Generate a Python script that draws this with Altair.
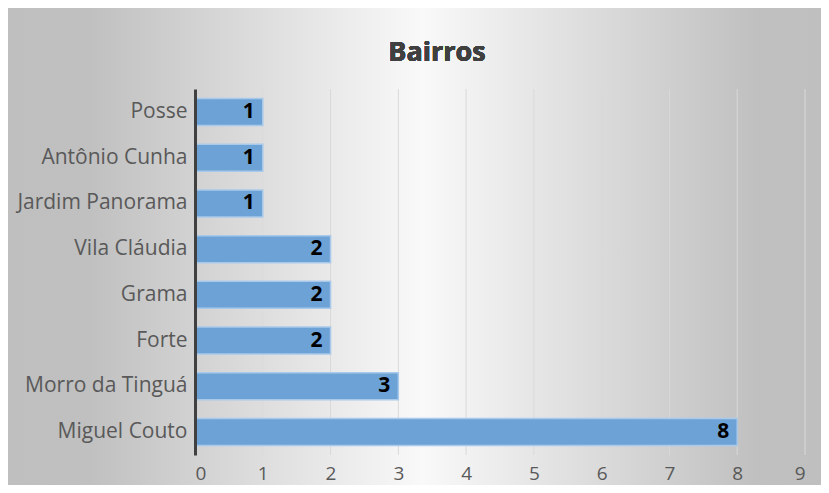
import altair as alt
import pandas as pd

# Data
bairros = ["Posse", "Antônio Cunha", "Jardim Panorama", "Vila Cláudia",
           "Grama", "Forte", "Morro da Tinguá", "Miguel Couto"]
valores = [1, 1, 1, 2, 2, 2, 3, 8]
ticks = [0, 1, 2, 3, 4, 5, 6, 7, 8, 9]
titulo = "Bairros"

df = pd.DataFrame({"bairro": bairros, "valor": valores})
grid_df = pd.DataFrame({"t": ticks})

W, H = 610, 366
FONT = "Open Sans"

xscale = alt.Scale(domain=[0, 9], nice=False, zero=True)
yscale = alt.Scale(paddingInner=0.41, paddingOuter=0.21)

gradient = alt.LinearGradient(
    gradient="linear", x1=0, y1=0, x2=1, y2=0,
    stops=[
        alt.GradientStop(color="#bfbfbf", offset=0),
        alt.GradientStop(color="#c0c0c0", offset=0.10),
        alt.GradientStop(color="#f9f9f9", offset=0.51),
        alt.GradientStop(color="#c0c0c0", offset=0.92),
        alt.GradientStop(color="#bfbfbf", offset=1),
    ],
)

background = alt.Chart(df).mark_rect(fill=gradient, stroke=None).encode(
    x=alt.value(-187), x2=alt.value(626), y=alt.value(-81), y2=alt.value(396)
)

grid = alt.Chart(grid_df).mark_rule(color="#d9d9d9", strokeWidth=1).encode(
    x=alt.X("t:Q", scale=xscale),
    y=alt.value(0), y2=alt.value(H),
)

bars = alt.Chart(df).mark_bar(
    color="#6ca2d6", stroke="#a9c9ea", strokeWidth=1.5
).encode(
    x=alt.X("valor:Q", scale=xscale,
            axis=alt.Axis(values=ticks, grid=False, domain=False, ticks=False,
                          labelFont=FONT, labelFontSize=19, labelColor="#595959",
                          labelPadding=9, title=None, zindex=1, format="d")),
    y=alt.Y("bairro:N", sort=bairros, scale=yscale,
            axis=alt.Axis(grid=False, ticks=False, domain=True, domainColor="#404040",
                          domainWidth=3, labelFont=FONT, labelFontSize=21,
                          labelColor="#595959", labelPadding=8, title=None,
                          zindex=1)),
)

labels = alt.Chart(df).mark_text(
    align="right", baseline="middle", dx=-8, fontWeight="bold",
    fontSize=21, font=FONT, color="#000000"
).encode(
    x=alt.X("valor:Q", scale=xscale),
    y=alt.Y("bairro:N", sort=bairros, scale=yscale),
    text=alt.Text("valor:Q"),
)

title = alt.Chart(df).mark_text(
    align="center", baseline="middle", fontWeight="bold", fontSize=27,
    font=FONT, color="#404040"
).encode(
    x=alt.value(242), y=alt.value(-36), text=alt.value(titulo)
)

chart = alt.layer(background, grid, bars, labels, title).properties(
    width=W, height=H, padding=0, background="#ffffff"
).configure_view(stroke=None)

chart.save("out.html", embed_options={"renderer": "svg", "actions": False})
